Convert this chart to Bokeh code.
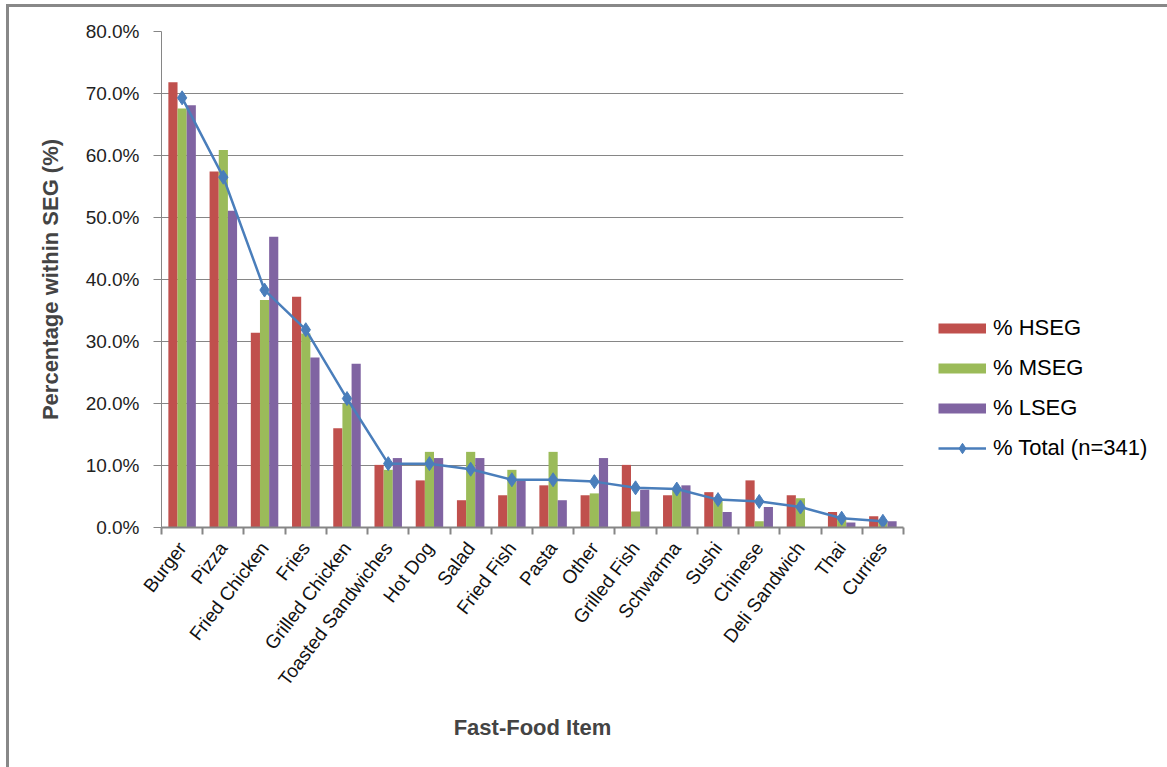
import numpy as np
from bokeh.plotting import figure
from bokeh.models import (Range1d, FixedTicker, CustomJSTickFormatter, PrintfTickFormatter,
                          Legend, LegendItem)
from bokeh.embed import file_html
from bokeh.resources import INLINE

# Share of respondents in each socio-economic group (SEG) who eat each item
foods = ["Burger", "Pizza", "Fried Chicken", "Fries", "Grilled Chicken", "Toasted Sandwiches",
         "Hot Dog", "Salad", "Fried Fish", "Pasta", "Other", "Grilled Fish", "Schwarma",
         "Sushi", "Chinese", "Deli Sandwich", "Thai", "Curries"]
hseg = [71.8, 57.4, 31.4, 37.2, 16.0, 10.1, 7.6, 4.4, 5.2, 6.8, 5.2, 10.1, 5.2, 5.7, 7.6, 5.2, 2.5, 1.8]
mseg = [67.6, 60.9, 36.7, 31.3, 20.0, 9.3, 12.2, 12.2, 9.3, 12.2, 5.5, 2.6, 6.1, 4.4, 1.0, 4.7, 1.5, 0.9]
lseg = [68.1, 51.1, 46.9, 27.4, 26.4, 11.2, 11.2, 11.2, 7.6, 4.4, 11.2, 6.1, 6.8, 2.5, 3.3, 0.0, 0.8, 1.0]
total = [69.3, 56.5, 38.3, 31.9, 20.8, 10.3, 10.3, 9.4, 7.7, 7.7, 7.4, 6.4, 6.2, 4.5, 4.2, 3.3, 1.5, 1.0]
y_ticks = [0, 10, 20, 30, 40, 50, 60, 70, 80]

FONT = "Liberation Sans"
GRID = "#868686"
RED, GREEN, PURPLE, BLUE = "#C0504D", "#9BBB59", "#8064A2", "#4A7EBB"

n = len(foods)
centers = np.arange(n) + 0.5
bw = 1.0 / 4.5  # three bars plus a 150% gap per category

p = figure(frame_width=742, frame_height=496, output_backend="svg", toolbar_location=None,
           x_range=Range1d(0, n), y_range=Range1d(0, 80),
           min_border_left=152, min_border_right=264, min_border_top=24, min_border_bottom=240,
           styles={"margin-left": "6px", "margin-top": "4px",
                   "border-top": "3px solid #888888", "border-left": "3px solid #888888"})
p.outline_line_color = None
p.background_fill_color = "white"
p.border_fill_color = "white"

p.vbar(x=centers - bw, top=hseg, width=bw, fill_color=RED, line_color=None)
p.vbar(x=centers, top=mseg, width=bw, fill_color=GREEN, line_color=None)
p.vbar(x=centers + bw, top=lseg, width=bw, fill_color=PURPLE, line_color=None)
r_tl = p.line(x=centers, y=total, line_color=BLUE, line_width=2.5)
r_ts = p.scatter(x=centers, y=total, marker="diamond", size=14, fill_color=BLUE, line_color=BLUE)

# flat colour swatches for the legend: single-point lines draw nothing in the plot
sw_h = p.line(x=centers[:1], y=hseg[:1], line_color=RED, line_width=10)
sw_m = p.line(x=centers[:1], y=mseg[:1], line_color=GREEN, line_width=10)
sw_l = p.line(x=centers[:1], y=lseg[:1], line_color=PURPLE, line_width=10)

# y axis
p.yaxis.ticker = FixedTicker(ticks=y_ticks)
p.yaxis.formatter = PrintfTickFormatter(format="%.1f%%")
p.yaxis.axis_line_color = GRID
p.yaxis.major_tick_line_color = GRID
p.yaxis.major_tick_out = 8
p.yaxis.major_tick_in = 0
p.yaxis.minor_tick_line_color = None
p.yaxis.major_label_text_font = FONT
p.yaxis.major_label_text_font_size = "19px"
p.yaxis.major_label_text_color = "#222222"
p.yaxis.major_label_standoff = 14
p.yaxis.axis_label = "Percentage within SEG (%)"
p.yaxis.axis_label_text_font = FONT
p.yaxis.axis_label_text_font_style = "bold"
p.yaxis.axis_label_text_font_size = "22px"
p.yaxis.axis_label_standoff = 20

# x axis: names at category centres, tick marks on category edges
p.xaxis.ticker = FixedTicker(ticks=list(centers), minor_ticks=list(range(n + 1)))
p.xaxis.formatter = CustomJSTickFormatter(args=dict(names=foods),
                                          code="return names[Math.floor(tick)]")
p.xaxis.axis_line_color = GRID
p.xaxis.axis_line_width = 2
p.xaxis.major_tick_line_color = None
p.xaxis.minor_tick_line_color = GRID
p.xaxis.minor_tick_line_width = 2
p.xaxis.minor_tick_out = 7
p.xaxis.minor_tick_in = 0
p.xaxis.major_label_orientation = 0.92
p.xaxis.major_label_text_font = FONT
p.xaxis.major_label_text_font_size = "19px"
p.xaxis.major_label_text_color = "#111111"
p.xaxis.major_label_standoff = 10
p.xaxis.axis_label = "Fast-Food Item"
p.xaxis.axis_label_text_font = FONT
p.xaxis.axis_label_text_font_style = "bold"
p.xaxis.axis_label_text_font_size = "22px"
p.xaxis.axis_label_standoff = 16

p.xgrid.visible = False
p.ygrid.ticker = FixedTicker(ticks=y_ticks[1:])
p.ygrid.grid_line_color = GRID
p.ygrid.grid_line_width = 1

legend = Legend(items=[
    LegendItem(label="% HSEG", renderers=[sw_h]),
    LegendItem(label="% MSEG", renderers=[sw_m]),
    LegendItem(label="% LSEG", renderers=[sw_l]),
    LegendItem(label="% Total (n=341)", renderers=[r_tl, r_ts]),
], location=(35, 66))
legend.border_line_color = None
legend.background_fill_alpha = 0
legend.padding = 0
legend.margin = 0
legend.glyph_width = 48
legend.glyph_height = 26
legend.label_standoff = 7
legend.spacing = 14
legend.label_text_font = FONT
legend.label_text_font_size = "22px"
legend.label_text_color = "#000000"
p.add_layout(legend, "right")

open("out.html", "w").write(file_html(p, INLINE))
